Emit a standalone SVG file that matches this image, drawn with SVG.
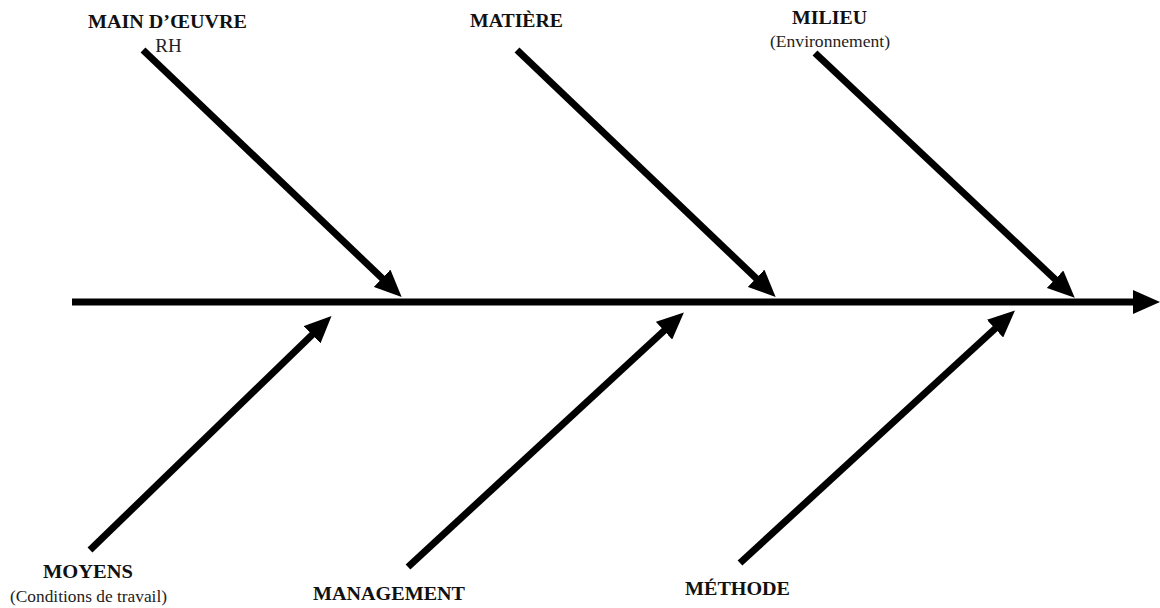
<svg xmlns="http://www.w3.org/2000/svg" width="1160" height="608" viewBox="0 0 1160 608">
<style>
.c{stroke:#000;stroke-width:7;fill:none;marker-end:url(#ah)}
.b{font-family:"Liberation Serif","Times New Roman",serif;font-weight:bold;font-size:18px;fill:#111;text-anchor:middle}
.r{font-family:"Liberation Serif","Times New Roman",serif;font-weight:400;font-size:17px;fill:#222;text-anchor:middle}
</style>
<defs>
<marker id="ah" markerUnits="userSpaceOnUse" markerWidth="27" markerHeight="24" refX="4" refY="12" orient="auto" viewBox="0 0 27 24">
<path d="M0,0 L27,12 L0,24 z" fill="#000"/>
</marker>
</defs>
<rect width="1160" height="608" fill="#fff"/>
<g id="connectors">
<line class="c" x1="72" y1="302" x2="1137" y2="302"/>
<line class="c" x1="143" y1="50" x2="385" y2="281"/>
<line class="c" x1="517" y1="50" x2="759" y2="281"/>
<line class="c" x1="815" y1="53" x2="1058" y2="282"/>
<line class="c" x1="90" y1="550" x2="315" y2="332"/>
<line class="c" x1="408" y1="567" x2="667" y2="328"/>
<line class="c" x1="740" y1="563" x2="998" y2="326"/>
</g>
<g id="main-oeuvre">
<text class="b" x="167.5" y="28" textLength="159" lengthAdjust="spacingAndGlyphs">MAIN D’ŒUVRE</text>
<text class="r" x="168.5" y="52" style="font-size:19px">RH</text>
</g>
<g id="matiere">
<text class="b" x="516.5" y="27" textLength="93" lengthAdjust="spacingAndGlyphs">MATIÈRE</text>
</g>
<g id="milieu">
<text class="b" x="829.5" y="24" textLength="75" lengthAdjust="spacingAndGlyphs">MILIEU</text>
<text class="r" x="830" y="47" textLength="120" lengthAdjust="spacingAndGlyphs">(Environnement)</text>
</g>
<g id="moyens">
<text class="b" x="88" y="578" textLength="90" lengthAdjust="spacingAndGlyphs">MOYENS</text>
<text class="r" x="88.5" y="602" textLength="157" lengthAdjust="spacingAndGlyphs">(Conditions de travail)</text>
</g>
<g id="management">
<text class="b" x="389" y="600" textLength="152" lengthAdjust="spacingAndGlyphs">MANAGEMENT</text>
</g>
<g id="methode">
<text class="b" x="737.5" y="595" textLength="105" lengthAdjust="spacingAndGlyphs">MÉTHODE</text>
</g>
</svg>
